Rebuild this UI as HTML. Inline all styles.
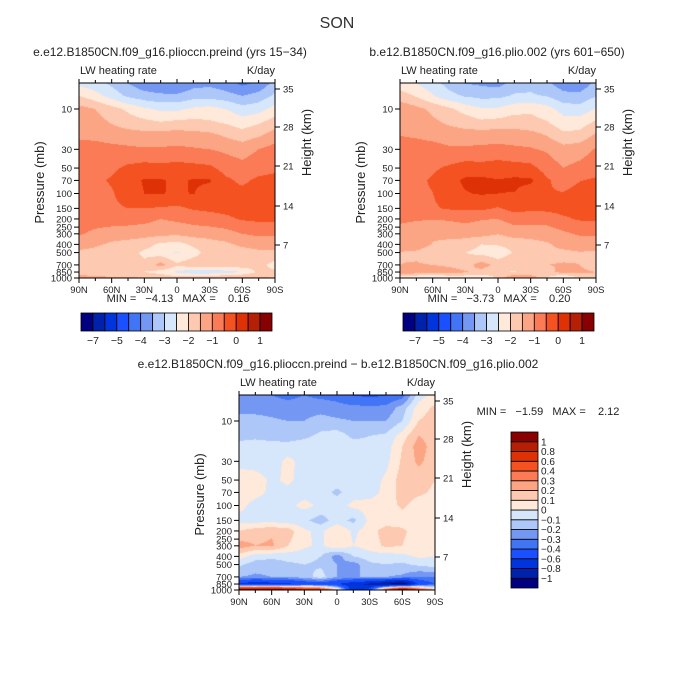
<!DOCTYPE html>
<html><head><meta charset="utf-8"><style>
body{margin:0;background:#fff;width:675px;height:674px;overflow:hidden;position:relative;font-family:"Liberation Sans",sans-serif}
canvas{position:absolute}
svg{position:absolute;left:0;top:0}
text{white-space:pre}
</style></head><body>
<canvas id="c1" width="196" height="195" style="left:79px;top:83px"></canvas>
<canvas id="c2" width="196" height="195" style="left:400px;top:83px"></canvas>
<canvas id="c3" width="196" height="195" style="left:239px;top:395px"></canvas>
<svg id="s" width="675" height="674"></svg>
<script>
const lats=[90,75,60,45,30,15,0,-15,-30,-45,-60,-75,-90];
const levels=[5,7,10,15,20,30,50,70,100,150,200,300,400,500,700,850,1000];
const preind=[
[-2.6,-2.8,-3.1,-3.5,-3.8,-3.9,-4.0,-3.7,-3.6,-3.8,-4.1,-3.9,-3.3],
[-2.0,-2.3,-2.7,-3.1,-3.3,-3.4,-3.4,-3.2,-3.2,-3.3,-3.5,-3.3,-2.9],
[-1.3,-1.5,-1.8,-2.1,-2.4,-2.6,-2.6,-2.4,-2.3,-2.5,-2.8,-2.7,-2.3],
[-1.2,-1.3,-1.5,-1.7,-1.8,-1.9,-1.8,-1.8,-1.9,-2.0,-2.2,-2.0,-1.7],
[-1.1,-1.15,-1.25,-1.3,-1.35,-1.3,-1.3,-1.35,-1.4,-1.6,-1.8,-1.6,-1.3],
[-0.8,-0.8,-0.85,-0.9,-0.95,-0.95,-0.9,-0.95,-1.0,-1.1,-1.2,-1.0,-0.8],
[-0.7,-0.65,-0.6,-0.4,-0.3,-0.35,-0.3,-0.35,-0.4,-0.7,-0.85,-0.7,-0.6],
[-0.7,-0.6,-0.45,-0.2,0.05,0.05,-0.1,0.05,0.05,-0.4,-0.6,-0.4,-0.35],
[-0.7,-0.65,-0.55,-0.25,0.0,0.02,-0.05,0.02,-0.2,-0.4,-0.35,-0.25,-0.25],
[-0.75,-0.75,-0.6,-0.5,-0.5,-0.55,-0.6,-0.45,-0.4,-0.35,-0.3,-0.3,-0.3],
[-0.8,-0.8,-0.8,-0.8,-0.85,-1.0,-0.9,-0.8,-0.7,-0.6,-0.45,-0.4,-0.4],
[-0.95,-1.1,-1.2,-1.25,-1.3,-1.35,-1.4,-1.3,-1.3,-1.2,-1.0,-0.9,-0.9],
[-1.25,-1.4,-1.6,-1.7,-1.8,-2.1,-2.2,-1.9,-1.7,-1.6,-1.4,-1.3,-1.3],
[-1.6,-1.7,-1.8,-1.8,-2.1,-2.3,-2.55,-2.2,-1.8,-1.7,-1.7,-1.6,-1.6],
[-1.7,-1.7,-1.7,-1.8,-1.9,-1.3,-1.9,-1.7,-1.7,-1.7,-1.7,-1.8,-2.2],
[-1.8,-1.9,-1.9,-1.9,-2.0,-2.2,-2.6,-2.8,-2.8,-2.7,-2.5,-1.9,-1.9],
[-1.2,-1.3,-1.4,-1.4,-1.5,-1.6,-1.7,-1.7,-1.6,-1.4,-1.3,-1.4,-1.5]];
const diff=[
[-0.3,-0.3,-0.3,-0.32,-0.3,-0.32,-0.33,-0.4,-0.42,-0.4,-0.35,-0.05,0.05],
[-0.25,-0.25,-0.25,-0.27,-0.25,-0.25,-0.27,-0.27,-0.28,-0.27,-0.15,0.05,0.12],
[-0.15,-0.15,-0.18,-0.2,-0.2,-0.15,-0.18,-0.2,-0.2,-0.2,-0.1,0.1,0.15],
[-0.12,-0.12,-0.13,-0.15,-0.12,-0.08,-0.05,-0.12,-0.1,-0.08,0.05,0.2,0.15],
[-0.08,-0.06,-0.07,-0.06,-0.05,-0.05,-0.05,-0.06,-0.07,-0.05,0.1,0.25,0.15],
[-0.03,-0.05,-0.05,0.03,-0.04,-0.05,-0.05,-0.05,-0.05,-0.03,0.12,0.22,0.15],
[0.05,0.05,-0.02,0.02,-0.04,-0.05,-0.06,-0.05,-0.05,0.02,0.15,0.15,0.1],
[0.05,0.03,-0.02,-0.03,-0.04,-0.06,-0.12,-0.05,-0.04,0.03,0.15,0.12,0.08],
[0.03,-0.03,-0.04,-0.03,0.03,-0.02,-0.05,0.03,0.04,0.05,0.12,0.05,0.05],
[-0.03,-0.04,-0.04,-0.05,-0.08,-0.15,-0.05,-0.13,0.03,0.04,0.05,0.04,0.04],
[0.1,0.15,0.18,0.15,0.02,-0.03,0.1,-0.02,0.05,0.15,0.12,0.05,0.03],
[0.25,0.2,0.22,0.1,0.02,-0.02,0.08,0.0,0.05,0.12,0.1,0.03,0.03],
[0.05,-0.05,-0.08,-0.06,-0.06,-0.1,-0.25,-0.1,-0.05,-0.05,-0.03,0.02,0.0],
[-0.08,-0.15,-0.15,-0.12,-0.1,-0.12,-0.2,-0.25,-0.12,-0.1,-0.12,-0.08,-0.05],
[-0.2,-0.22,-0.2,-0.2,-0.15,-0.05,-0.2,-0.2,-0.2,-0.2,-0.22,-0.3,-0.3],
[-0.65,-0.75,-0.7,-0.65,-0.55,-0.5,-0.6,-0.75,-0.85,-1.0,-1.2,-0.55,-0.4],
[1.2,1.3,1.3,1.1,0.9,0.7,0.2,-0.8,-0.5,0.6,1.4,0.6,0.2]];
const levAbs=[-7,-6,-5,-4.5,-4,-3.5,-3,-2.5,-2,-1.5,-1,-0.5,0,0.5,1];
const labAbs=["−7","","−5","","−4","","−3","","−2","","−1","","0","","1"];
const levDiff=[-1,-0.8,-0.6,-0.4,-0.3,-0.2,-0.1,0,0.1,0.2,0.3,0.4,0.6,0.8,1];
const labDiff=["−1","−0.8","−0.6","−0.4","−0.3","−0.2","−0.1","0","0.1","0.2","0.3","0.4","0.6","0.8","1"];
const palette=["#000080","#0022aa","#0035dd","#1a50ff","#4275f5","#7497f3","#aec7f9","#d6e7fc","#fee9da","#fdc9b0","#fca584","#fa7b55","#f55222","#de3206","#b51f05","#880000"];
const pLabels=[10,30,50,70,100,150,200,250,300,400,500,700,850,1000];
const hLabels=[35,28,21,14,7];
const latLabels=["90N","60N","30N","0","30S","60S","90S"];
const plio=preind.map((r,i)=>r.map((v,j)=>v-diff[i][j]));

const K=84.5, H=195, W=196;
function yOfP(p){return H-(3-Math.log10(p))*K;}
function hY(km){return [6,44,83,123,162][hLabels.indexOf(km)];}
const lp=levels.map(Math.log10);
function sample(f,fx,logp){
  let i=0; while(i<lp.length-2 && logp>lp[i+1]) i++;
  let t=(logp-lp[i])/(lp[i+1]-lp[i]); t=Math.max(0,Math.min(1,t));
  let xf=fx*(lats.length-1); let j=Math.min(Math.floor(xf),lats.length-2); let s=xf-j;
  const a=f[i][j]*(1-s)+f[i][j+1]*s, b=f[i+1][j]*(1-s)+f[i+1][j+1]*s;
  return a*(1-t)+b*t;
}
function bin(v,lv){let k=0; while(k<lv.length && v>=lv[k]) k++; return k;}
function hex(c){return [parseInt(c.substr(1,2),16),parseInt(c.substr(3,2),16),parseInt(c.substr(5,2),16)];}
const pal=palette.map(hex);
function draw(id,f,lv){
  const cv=document.getElementById(id),ctx=cv.getContext('2d'),im=ctx.createImageData(W,H);
  for(let y=0;y<H;y++){const logp=3-(H-y-0.5)/K;
    for(let x=0;x<W;x++){const c=pal[bin(sample(f,(x+0.5)/W,logp),lv)];const o=(y*W+x)*4;
      im.data[o]=c[0];im.data[o+1]=c[1];im.data[o+2]=c[2];im.data[o+3]=255;}}
  ctx.putImageData(im,0,0);
}
draw('c1',preind,levAbs);draw('c2',plio,levAbs);draw('c3',diff,levDiff);

const NS='http://www.w3.org/2000/svg',svg=document.getElementById('s');
function el(t,a,txt){const e=document.createElementNS(NS,t);for(const k in a)e.setAttribute(k,a[k]);if(txt!==undefined)e.textContent=txt;svg.appendChild(e);return e;}
function txt(x,y,s,size,anchor,name,extra){const e=el('text',Object.assign({x:x,y:y,'font-size':size,'text-anchor':anchor||'start',fill:'#222'},extra||{}),s);

return e;}
el('text',{x:337,y:28,'font-size':16,'text-anchor':'middle',fill:'#333'},'SON');

function panel(X,Y,title,tx,minmax,mmx,mmy,name){
  txt(tx,56,title,12,'middle',name+'-title').setAttribute('y',Y-27);
  txt(X+1,Y-9,'LW heating rate',11,'start',name+'-variable-label');
  txt(X+W,Y-9,'K/day',11,'end',name+'-units-label');
  const r=el('rect',{x:X,y:Y,width:W,height:H,fill:'none',stroke:'#000','stroke-width':1});
  
  
  pLabels.forEach(p=>{const y=Y+yOfP(p);
    el('line',{x1:X-5,x2:X,y1:y,y2:y,stroke:'#000'});
    txt(X-7,y+3.5,String(p),9.5,'end',name+'-ytick-'+p);});
  hLabels.forEach(h=>{const y=Y+hY(h);
    el('line',{x1:X+W,x2:X+W+5,y1:y,y2:y,stroke:'#000'});
    txt(X+W+8,y+3.5,String(h),9.5,'start',name+'-htick-'+h);});
  latLabels.forEach((l,i)=>{const x=X+i*W/6;
    el('line',{x1:x,x2:x,y1:Y+H,y2:Y+H+5,stroke:'#000'});
    el('line',{x1:x,x2:x,y1:Y,y2:Y-4,stroke:'#000'});
    txt(x,Y+H+15,l,9.5,'middle',name+'-xtick-'+l);});
  for(let i=0;i<12;i++){if(i%2){const x=X+i*W/12;el('line',{x1:x,x2:x,y1:Y+H,y2:Y+H+3,stroke:'#000'});el('line',{x1:x,x2:x,y1:Y,y2:Y-3,stroke:'#000'});}}
  const yl=Y+H/2+10;
  txt(0,0,'Pressure (mb)',13,'middle',name+'-y-axis-title',{transform:`translate(${X-35},${yl-8}) rotate(-90)`});
  txt(0,0,'Height (km)',13,'middle',name+'-right-axis-title',{transform:`translate(${X+W+36},${yl-48}) rotate(-90)`});
  txt(mmx,mmy,minmax,11,'middle',name+'-min-max');
}
panel(79,83,'e.e12.B1850CN.f09_g16.plioccn.preind (yrs 15−34)',170,'MIN =   −4.13   MAX =    0.16',178,302,'preind');
panel(400,83,'b.e12.B1850CN.f09_g16.plio.002 (yrs 601−650)',497,'MIN =   −3.73   MAX =    0.20',499,302,'plio');
panel(239,395,'e.e12.B1850CN.f09_g16.plioccn.preind − b.e12.B1850CN.f09_g16.plio.002',338,'MIN =   −1.59   MAX =    2.12',548,415,'diff');

function hbar(X,name){
  const bw=191/16;
  palette.forEach((c,i)=>{const r=el('rect',{x:X+i*bw,y:313,width:bw,height:18,fill:c,stroke:'#000','stroke-width':0.8});
    
    });
  labAbs.forEach((l,i)=>{if(l)txt(X+(i+1)*bw,344,l,10.5,'middle',name+'-label');});
}
hbar(81,'colorbar-abs-left');hbar(403,'colorbar-abs-right');
const bh=156/16;
palette.forEach((c,i)=>{const r=el('rect',{x:511,y:432+(15-i)*bh,width:27,height:bh,fill:c,stroke:'#000','stroke-width':0.8});
  
  });
labDiff.forEach((l,i)=>{txt(541,432+(15-i)*bh+3.5,l,10,'start','colorbar-diff-label');});
</script>
</body></html>
